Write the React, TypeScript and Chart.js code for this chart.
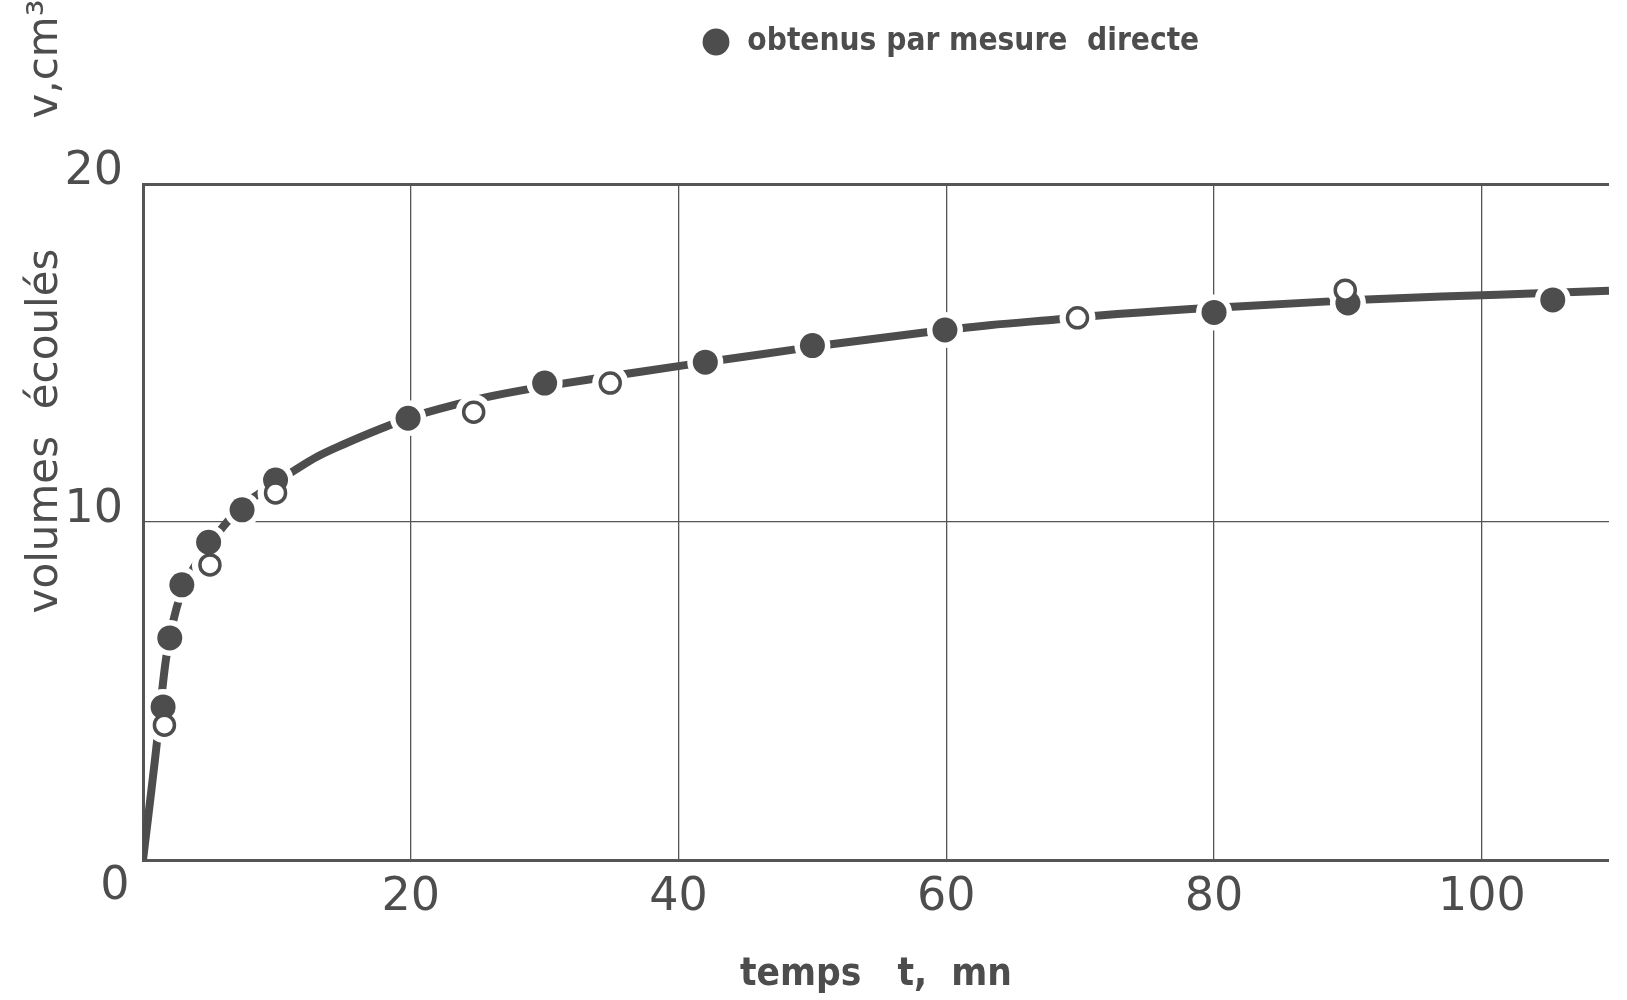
import React, { useEffect, useRef } from 'react';
import { Chart, registerables } from 'chart.js';

Chart.register(...registerables);

// ---- data ----
const X_TICKS = [0, 20, 40, 60, 80, 100];
const Y_TICKS = [0, 10, 20];
const X_MIN = 0;
const X_MAX = 109.5;
const Y_MIN = 0;
const Y_MAX = 20;

const X_TITLE = 'temps   t,  mn';
const Y_TITLE = 'volumes  écoulés';
const Y_UNIT = 'v,cm³';
const CORNER_LABEL = '0';
const LEGEND_LABEL = 'obtenus par mesure  directe';
const OPEN_LABEL = 'autres valeurs';

// filled circles: obtained by direct measurement
const FILLED_T = [1.5, 2.0, 2.9, 4.9, 7.4, 9.9, 19.8, 30.0, 42.0, 50.0, 59.9, 80.0, 90.0, 105.3];
const FILLED_V = [4.53, 6.57, 8.14, 9.4, 10.36, 11.24, 13.07, 14.11, 14.73, 15.22, 15.68, 16.2, 16.48, 16.57];

// open circles
const OPEN_T = [1.6, 5.0, 9.9, 24.7, 34.9, 69.8, 89.8];
const OPEN_V = [3.99, 8.73, 10.86, 13.25, 14.11, 16.04, 16.86];

// fitted curve traced through the picture
const CURVE_T = [0, 1.1, 1.4, 1.7, 2.0, 2.5, 3.0, 3.5, 4.2, 5.0, 5.7, 6.4, 7.4, 8.1, 9.0, 10.0, 11.2, 13.0, 15.0, 17.7, 20.0, 23.4, 25.5, 28.8, 31.1, 33.7, 35.9, 40.5, 43.3, 48.6, 51.4, 58.2, 63.2, 68.4, 71.2, 78.3, 81.4, 88.3, 91.4, 97.0, 103.7, 109.5];
const CURVE_V = [0, 3.7, 4.9, 5.9, 6.6, 7.45, 8.05, 8.45, 8.9, 9.35, 9.72, 10.05, 10.45, 10.68, 10.93, 11.2, 11.5, 11.93, 12.3, 12.75, 13.1, 13.48, 13.68, 13.93, 14.08, 14.24, 14.37, 14.64, 14.8, 15.1, 15.26, 15.6, 15.82, 16.0, 16.1, 16.3, 16.37, 16.52, 16.58, 16.67, 16.76, 16.84];

// ---- styles ----
const INK = '#4d4d4d';
const GRID = '#555555';
const SANS = '"DejaVu Sans", Verdana, sans-serif';
const NARROW = '"Liberation Sans Narrow", "DejaVu Sans Condensed", "Roboto Condensed", "Liberation Sans", Arial, sans-serif';
const TICK_SIZE = 46;
const TITLE_SIZE = 42;

// target geometry (px on the 1627x1000 canvas)
const LEGEND_TEXT_W = 452;
const XTITLE_TEXT_W = 272;
const LEGEND_CY = 42;
const LEGEND_MARKER_CX = 716;
const PLOT_TOP = 184;

export default function App() {
  const ref = useRef<HTMLCanvasElement>(null);

  useEffect(() => {
    const canvas = ref.current;
    if (!canvas) return;

    const mctx = document.createElement('canvas').getContext('2d') as CanvasRenderingContext2D;
    const fit = (text: string, family: string, weight: string, target: number, maxSize: number) => {
      mctx.font = `${weight} 100px ${family}`;
      const w = mctx.measureText(text).width || 1;
      return Math.min(maxSize, (100 * target) / w);
    };
    const legendSize = fit(LEGEND_LABEL, NARROW, 'bold', LEGEND_TEXT_W, 41);
    const xTitleSize = fit(X_TITLE, NARROW, 'bold', XTITLE_TEXT_W, 46);
    const legendPad = PLOT_TOP - 10 - legendSize;

    const extraText = {
      id: 'extraText',
      afterLayout(chart: any) {
        const lg = chart.legend;
        if (lg) {
          lg.top = LEGEND_CY - legendPad - legendSize / 2;
          lg.bottom = lg.top + lg.height;
          lg.left = LEGEND_MARKER_CX - legendSize / 2 - legendPad;
        }
      },
      afterDraw(chart: any) {
        const { ctx, scales } = chart;
        const x = scales.x;
        const y = scales.y;
        ctx.save();
        ctx.fillStyle = INK;
        ctx.font = `${TICK_SIZE}px ${SANS}`;
        ctx.textAlign = 'center';
        ctx.textBaseline = 'middle';
        ctx.fillText(CORNER_LABEL, x.getPixelForValue(0) - 28, y.getPixelForValue(0) + 27);

        ctx.font = `${TITLE_SIZE}px ${SANS}`;
        ctx.textBaseline = 'alphabetic';
        ctx.save();
        ctx.translate(57, 431);
        ctx.rotate(-Math.PI / 2);
        ctx.fillText(Y_TITLE, 0, 0);
        ctx.restore();
        ctx.save();
        ctx.translate(57, 59);
        ctx.rotate(-Math.PI / 2);
        ctx.fillText(Y_UNIT, 0, 0);
        ctx.restore();
        ctx.restore();
      },
    };

    const pts = (t: number[], v: number[]) => t.map((xv, i) => ({ x: xv, y: v[i] }));
    const filled = pts(FILLED_T, FILLED_V);
    const open = pts(OPEN_T, OPEN_V);
    const curve = pts(CURVE_T, CURVE_V);

    const chart = new Chart(canvas, {
      type: 'scatter',
      data: {
        datasets: [
          {
            label: LEGEND_LABEL,
            data: filled,
            showLine: false,
            pointStyle: 'circle',
            pointRadius: 12.5,
            pointHoverRadius: 12.5,
            pointBackgroundColor: INK,
            pointBorderWidth: 0,
            backgroundColor: INK,
            borderColor: INK,
            order: 2,
          },
          {
            label: OPEN_LABEL,
            data: open,
            showLine: false,
            pointStyle: 'circle',
            pointRadius: 10,
            pointHoverRadius: 10,
            pointBackgroundColor: '#ffffff',
            pointBorderColor: INK,
            pointBorderWidth: 3.5,
            order: 1,
          },
          {
            label: 'halo',
            data: [...filled, ...open],
            showLine: false,
            pointRadius: 18,
            pointHoverRadius: 18,
            pointBackgroundColor: '#ffffff',
            pointBorderWidth: 0,
            order: 3,
          },
          {
            label: 'courbe',
            data: curve,
            showLine: true,
            borderColor: INK,
            borderWidth: 8,
            borderCapStyle: 'butt',
            borderJoinStyle: 'round',
            pointRadius: 0,
            pointHoverRadius: 0,
            cubicInterpolationMode: 'monotone',
            order: 4,
          },
        ] as any,
      },
      options: {
        responsive: false,
        animation: false,
        events: [],
        layout: { padding: 0 },
        plugins: {
          tooltip: { enabled: false },
          title: { display: false },
          legend: {
            display: true,
            position: 'top',
            align: 'start',
            labels: {
              usePointStyle: true,
              boxWidth: legendSize,
              boxHeight: 19,
              padding: legendPad,
              color: INK,
              font: { family: NARROW, size: legendSize, weight: 'bold' },
              generateLabels: (c: any) =>
                (Chart.defaults.plugins.legend.labels as any)
                  .generateLabels(c)
                  .filter((l: any) => l.datasetIndex === 0)
                  .map((l: any) => ({ ...l, lineWidth: 0, fillStyle: INK, strokeStyle: INK, pointStyle: 'circle' })),
            },
          },
        },
        scales: {
          x: {
            type: 'linear',
            min: X_MIN,
            max: X_MAX,
            afterFit: (s: any) => { s.height = 140; },
            afterBuildTicks: (s: any) => { s.ticks = X_TICKS.map((v) => ({ value: v })); },
            ticks: {
              includeBounds: false,
              padding: 10,
              color: INK,
              font: { family: SANS, size: TICK_SIZE },
              callback: (v: any) => (Number(v) === 0 ? '' : String(v)),
            },
            grid: {
              drawTicks: false,
              color: GRID,
              lineWidth: (c: any) => (c.tick && c.tick.value === 0 ? 0 : 1.3),
            },
            border: { display: true, color: GRID, width: 3 },
            title: {
              display: true,
              text: X_TITLE,
              color: INK,
              font: { family: NARROW, size: xTitleSize, weight: 'bold' },
              padding: { top: 0, bottom: 2 },
            },
          },
          y: {
            type: 'linear',
            min: Y_MIN,
            max: Y_MAX,
            afterFit: (s: any) => { s.width = 143; },
            afterBuildTicks: (s: any) => { s.ticks = Y_TICKS.map((v) => ({ value: v })); },
            ticks: {
              includeBounds: false,
              padding: 20,
              labelOffset: -12,
              color: INK,
              font: { family: SANS, size: TICK_SIZE },
              callback: (v: any) => (Number(v) === 0 ? '' : String(v)),
            },
            grid: {
              drawTicks: false,
              color: GRID,
              lineWidth: (c: any) => {
                const v = c.tick ? c.tick.value : null;
                if (v === 0) return 0;
                if (v === 20) return 3;
                return 1.3;
              },
            },
            border: { display: true, color: GRID, width: 3 },
            title: { display: false },
          },
        },
      } as any,
      plugins: [extraText],
    });

    return () => chart.destroy();
  }, []);

  return (
    <div style={{ position: 'fixed', left: 0, top: 0, width: 1627, height: 1000, background: '#ffffff' }}>
      <canvas ref={ref} width={1627} height={1000} style={{ display: 'block' }} />
    </div>
  );
}
